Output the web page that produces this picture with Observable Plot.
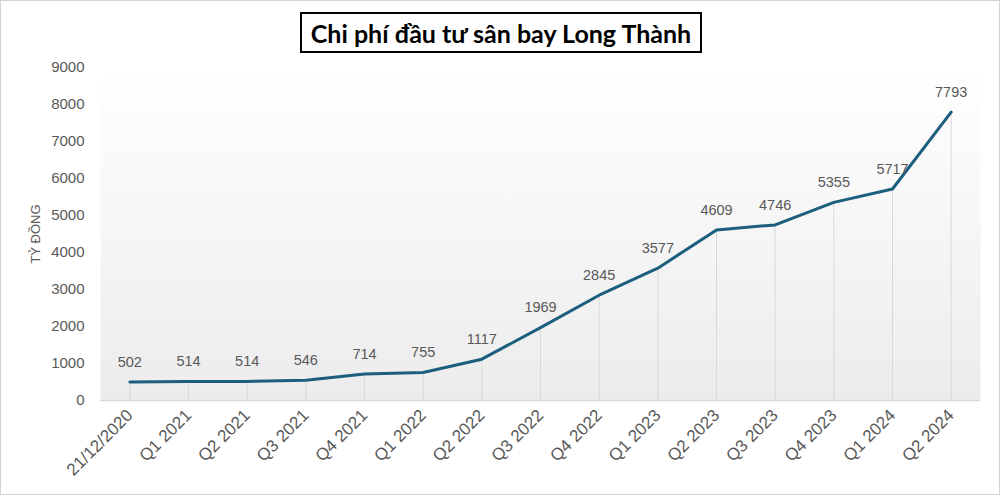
<!DOCTYPE html>
<html>
<head>
<meta charset="utf-8">
<script src="https://cdn.jsdelivr.net/npm/d3@7"></script>
<script src="https://cdn.jsdelivr.net/npm/@observablehq/plot@0.6"></script>
<style>
  html, body { margin: 0; padding: 0; background: #fff; }
  #wrap { position: relative; width: 1000px; height: 495px; overflow: hidden; background: #fff; }
  #border { position: absolute; inset: 0; border: 1px solid #d4d4d4; pointer-events: none; }
  #titlebar { height: 58px; position: relative; }
  #title {
    position: absolute; left: 300px; top: 12px; width: 402px; height: 41px;
    box-sizing: border-box; border: 2px solid #000;
    font-family: Lato, "Open Sans", sans-serif; font-weight: 700; font-size: 25px;
    color: #000; display: flex; align-items: center; justify-content: center; white-space: nowrap;
  }
  #chart svg { display: block; }
</style>
</head>
<body>
<div id="wrap">
  <div id="titlebar"><div id="title">Chi phí đầu tư sân bay Long Thành</div></div>
  <div id="chart"></div>
  <div id="border"></div>
</div>
<script>
const periods = ["21/12/2020", "Q1 2021", "Q2 2021", "Q3 2021", "Q4 2021", "Q1 2022", "Q2 2022",
  "Q3 2022", "Q4 2022", "Q1 2023", "Q2 2023", "Q3 2023", "Q4 2023", "Q1 2024", "Q2 2024"];
const costs = [502, 514, 514, 546, 714, 755, 1117, 1969, 2845, 3577, 4609, 4746, 5355, 5717, 7793];
const yTicks = [0, 1000, 2000, 3000, 4000, 5000, 6000, 7000, 8000, 9000];
const yLabel = "TỶ ĐỒNG";

const data = periods.map((p, i) => ({period: p, cost: costs[i]}));

const font = "'Liberation Sans', Arial, sans-serif";
const chart = Plot.plot({
  width: 1000,
  height: 437,
  marginTop: 9,
  marginBottom: 95,
  marginLeft: 100,
  marginRight: 20,
  style: {fontFamily: font, fontSize: "14px", color: "#595959", background: "transparent"},
  x: {type: "point", domain: periods, padding: 0.5, round: false},
  y: {domain: [0, 9000]},
  marks: [
    Plot.frame({fill: "url(#bgGrad)", stroke: null}),
    Plot.ruleX(data, {x: "period", y1: 0, y2: "cost", stroke: "#d9d9d9", strokeWidth: 1}),
    Plot.ruleY([0], {stroke: "#d9d9d9", strokeWidth: 1.5}),
    Plot.axisY({ticks: yTicks, tickSize: 0, tickPadding: 16, tickFormat: d => String(d),
      label: yLabel, labelAnchor: "center", labelOffset: 70, labelArrow: "none", fontSize: 15}),
    Plot.axisX({tickSize: 0, tickPadding: 12, tickRotate: -45, label: null, fontSize: 17}),
    Plot.line(data, {x: "period", y: "cost", stroke: "#1b5e7e", strokeWidth: 3, strokeLinejoin: "round"}),
    Plot.text(data, {x: "period", y: "cost", text: d => String(d.cost), dy: -20, fill: "#595959", fontSize: 14.5})
  ]
});

// gradient definition for background
const defs = d3.create("svg:defs");
const g = defs.append("linearGradient").attr("id", "bgGrad").attr("x1", 0).attr("y1", 0).attr("x2", 0).attr("y2", 1);
g.append("stop").attr("offset", "0%").attr("stop-color", "#ffffff");
g.append("stop").attr("offset", "100%").attr("stop-color", "#ececec");
chart.insertBefore(defs.node(), chart.firstChild);

// y label size
d3.select(chart).selectAll("[aria-label='y-axis label']").attr("font-size", 13);

document.getElementById("chart").appendChild(chart);
</script>
</body>
</html>
